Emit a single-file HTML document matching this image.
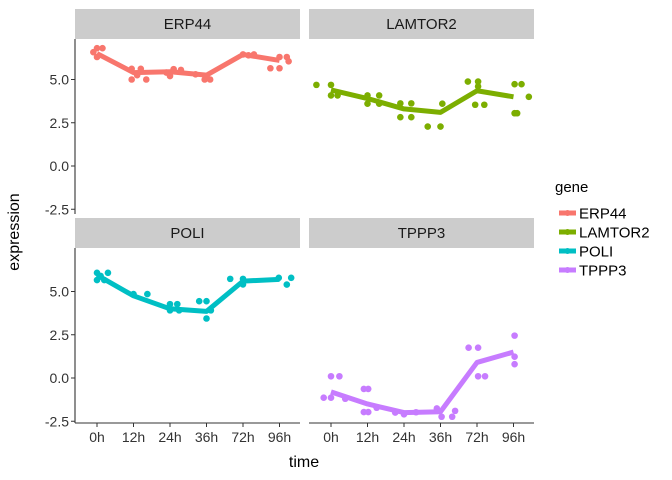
<!DOCTYPE html>
<html><head><meta charset="utf-8"><style>
body{margin:0;background:#fff}
svg{display:block;font-family:"Liberation Sans",sans-serif}
</style></head><body>
<svg id="chart" width="672" height="480"></svg>
<script>
const times=["0h","12h","24h","36h","72h","96h"];
const genes=["ERP44","LAMTOR2","POLI","TPPP3"];
const colors=["#F8766D","#7CAE00","#00BFC4","#C77CFF"];
const yTicks=[-2.5,0,2.5,5];
const yTickLabels=["-2.5","0.0","2.5","5.0"];
const meanERP44=[6.5,5.4,5.45,5.25,6.45,6.1];
const meanLAMTOR2=[4.4,3.9,3.3,3.1,4.35,4.0];
const meanPOLI=[5.95,4.75,4.0,3.85,5.6,5.7];
const meanTPPP3=[-0.8,-1.5,-2.0,-1.95,0.9,1.5];
// points: [time index, jitter (category units), value]
const ptsERP44=[[0,-0.1,6.58],[0,0,6.81],[0,0.15,6.81],[0,0,6.3],[1,-0.05,5.62],[1,0.2,5.62],[1,-0.05,5.0],[1,0.35,5.0],[1,0.1,5.25],[2,-0.1,5.4],[2,0.1,5.6],[2,0.3,5.55],[2,0,5.2],[3,-0.3,5.3],[3,-0.05,5.0],[3,0.1,5.0],[3,0,5.2],[4,0,6.45],[4,0.3,6.45],[4,0.15,6.4],[5,0,5.65],[5,-0.25,5.65],[5,0,6.3],[5,0.2,6.3],[5,0.25,6.05]];
const ptsLAMTOR2=[[0,-0.4,4.69],[0,0,4.69],[0,0,4.08],[0,0.18,4.08],[1,0,4.08],[1,0,3.6],[1,0.32,4.08],[1,0.32,3.6],[2,-0.1,3.62],[2,0.2,3.62],[2,-0.1,2.82],[2,0.2,2.82],[3,-0.35,2.28],[3,0,2.28],[3,0.05,3.6],[4,-0.25,4.88],[4,0.03,4.88],[4,0.03,4.6],[4,-0.05,3.54],[4,0.2,3.54],[5,0.03,4.73],[5,0.22,4.73],[5,0.42,4.0],[5,0.03,3.05],[5,0.1,3.05]];
const ptsPOLI=[[0,0,6.08],[0,0,5.66],[0,0.3,6.08],[0,0.2,5.66],[0,0.1,5.9],[1,0,4.85],[1,0.38,4.85],[2,0,4.27],[2,0,3.91],[2,0.2,4.27],[2,0.25,3.91],[3,-0.2,4.44],[3,0,4.44],[3,0,3.44],[3,0.12,3.91],[4,-0.35,5.73],[4,0,5.73],[4,0,5.41],[5,-0.02,5.79],[5,0.2,5.4],[5,0.32,5.79]];
const ptsTPPP3=[[0,-0.2,-1.14],[0,0,-1.14],[0,0,0.1],[0,0.23,0.1],[0,0.39,-1.2],[1,-0.1,-0.63],[1,0.02,-0.63],[1,-0.1,-1.97],[1,0.02,-1.97],[1,0.25,-1.72],[2,-0.24,-2.0],[2,0,-2.1],[2,0.33,-1.98],[3,-0.1,-1.76],[3,0.03,-2.24],[3,0.32,-2.24],[3,0.4,-1.9],[4,-0.23,1.75],[4,0.03,1.75],[4,0.03,0.1],[4,0.22,0.1],[5,0.03,2.45],[5,0.03,1.23],[5,0.03,0.8]];
const means=[meanERP44,meanLAMTOR2,meanPOLI,meanTPPP3];
const pts=[ptsERP44,ptsLAMTOR2,ptsPOLI,ptsTPPP3];

const NS="http://www.w3.org/2000/svg";
const svg=document.getElementById('chart');
function mk(tag,attrs,parent,text){const e=document.createElementNS(NS,tag);for(const k in attrs)e.setAttribute(k,attrs[k]);if(text!==undefined)e.textContent=text;(parent||svg).appendChild(e);return e;}
const panels=[{x0:75,x1:300,top:39,s:9,zero:166},{x0:309,x1:534,top:39,s:9,zero:166},{x0:75,x1:300,top:248,s:218,zero:378},{x0:309,x1:534,top:248,s:218,zero:378}];
const PXU=17.3;
function sx(p,i,j){return p.x0+22+(i+j)*36.5;}
function sy(p,v){return p.zero-v*PXU;}
panels.forEach((p,g)=>{
  const grp=mk('g',{},svg);
  
  
  const st=mk('rect',{x:p.x0,y:p.s,width:p.x1-p.x0,height:30,fill:'#cccccc'},grp);
  
  
  const sl=mk('text',{x:(p.x0+p.x1)/2,y:p.s+20,'text-anchor':'middle','font-size':15,fill:'#1a1a1a'},grp,genes[g]);
  
  
  const bottom=p.top+175;
  if(g%2===0){
    mk('line',{x1:p.x0,x2:p.x0,y1:p.top,y2:bottom,stroke:'#333',"stroke-width":1.1},grp);
    yTicks.forEach((t,k)=>{const y=sy(p,t);
      mk('line',{x1:p.x0-4,x2:p.x0,y1:y,y2:y,stroke:'#333'},grp);
      const tl=mk('text',{x:p.x0-6,y:y+5,'text-anchor':'end','font-size':14,fill:'#333'},grp,yTickLabels[k]);
      
      });
  }
  if(g>=2){
    mk('line',{x1:p.x0,x2:p.x1,y1:bottom,y2:bottom,stroke:'#333',"stroke-width":1.1},grp);
    times.forEach((t,i)=>{const x=sx(p,i,0);
      mk('line',{x1:x,x2:x,y1:bottom,y2:bottom+4,stroke:'#333'},grp);
      const tl=mk('text',{x:x,y:bottom+19,'text-anchor':'middle','font-size':14,fill:'#333'},grp,t);
      
      });
  }
  pts[g].forEach(d=>{const c=mk('circle',{cx:sx(p,d[0],d[1]),cy:sy(p,d[2]),r:3.3,fill:colors[g]},grp);
    
    });
  const line=mk('polyline',{points:means[g].map((v,i)=>sx(p,i,0)+','+sy(p,v)).join(' '),fill:'none',stroke:colors[g],'stroke-width':5,'stroke-linejoin':'round'},grp);
  
  
});
const yt=mk('text',{x:0,y:0,transform:'translate(19,232) rotate(-90)','text-anchor':'middle','font-size':16,fill:'#000'},svg,'expression');


const xt=mk('text',{x:304,y:467,'text-anchor':'middle','font-size':16,fill:'#000'},svg,'time');


const lt=mk('text',{x:555,y:192,'font-size':15,fill:'#000'},svg,'gene');


genes.forEach((gn,g)=>{const y=213+g*19;
  const le=mk('g',{},svg);
  
  
  mk('line',{x1:559,x2:576,y1:y,y2:y,stroke:colors[g],'stroke-width':5},le);
  mk('circle',{cx:567.5,cy:y,r:3,fill:colors[g]},le);
  mk('text',{x:579,y:y+5.5,'font-size':15,fill:'#000'},le,gn);
});
</script>
</body></html>
